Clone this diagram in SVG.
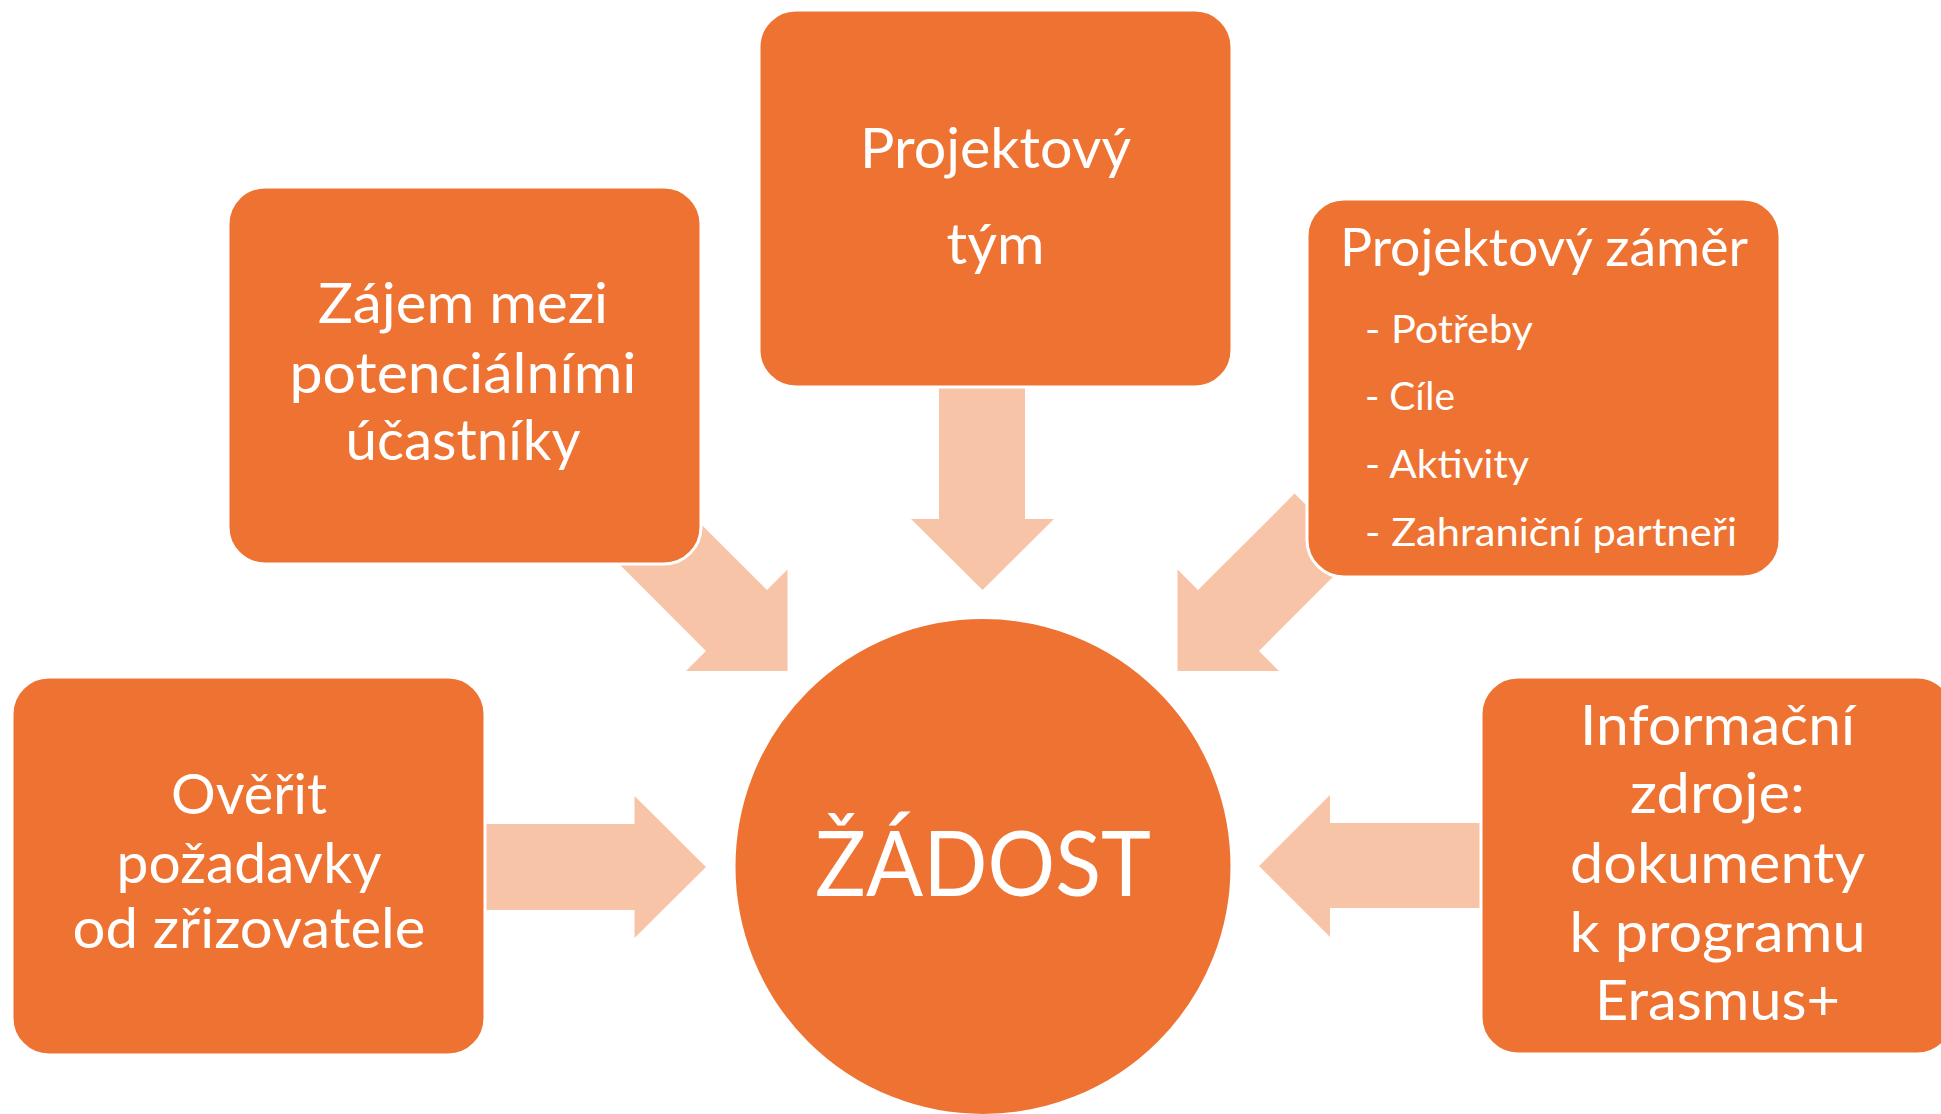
<svg xmlns="http://www.w3.org/2000/svg" width="1941" height="1114" viewBox="0 0 1941 1114">
  <style>
    .box { fill: #EE7332; stroke: #FFFFFF; stroke-width: 3; }
    .arrow { fill: #F8C4A8; stroke: none; }
    .t { font-family: Lato, "Liberation Sans", sans-serif; fill: #FFFFFF; }
    .main { font-size: 57px; text-anchor: middle; }
    .title { font-size: 52px; text-anchor: middle; }
    .bul { font-size: 39px; text-anchor: start; }
    .big { font-size: 92px; text-anchor: middle; }
  </style>
  <rect width="1941" height="1114" fill="#FFFFFF"/>

  <g id="connectors">
    <polygon class="arrow" points="939,380 1025,380 1025,519 1054,519 982.5,590 911,519 939,519"/>
    <polygon class="arrow" points="670.4,493.6 767,590 787.5,569.5 787.5,671 686,671 706,651 609.6,554.4"/>
    <polygon class="arrow" points="1294.6,493.6 1198,590 1177.5,569.5 1177.5,671 1279,671 1259,651 1355.4,554.4"/>
    <polygon class="arrow" points="470,824 634.5,824 634.5,796 706,867 634.5,938 634.5,910 470,910"/>
    <polygon class="arrow" points="1500,823 1330,823 1330,795 1259,866 1330,937 1330,908 1500,908"/>
  </g>

  <g id="node-tym">
    <rect class="box" x="759" y="10" width="473" height="377" rx="37" ry="37"/>
    <text class="t main" x="995.5" y="168" textLength="271" lengthAdjust="spacingAndGlyphs">Projektový</text>
    <text class="t main" x="995.5" y="264" textLength="98" lengthAdjust="spacingAndGlyphs">tým</text>
  </g>

  <g id="node-zajem">
    <rect class="box" x="228" y="187" width="473" height="377" rx="37" ry="37"/>
    <text class="t main" x="463" y="323" textLength="290" lengthAdjust="spacingAndGlyphs">Zájem mezi</text>
    <text class="t main" x="463" y="393" textLength="347" lengthAdjust="spacingAndGlyphs">potenciálními</text>
    <text class="t main" x="463" y="460" textLength="235" lengthAdjust="spacingAndGlyphs">účastníky</text>
  </g>

  <g id="node-zamer">
    <rect class="box" x="1307" y="199" width="473" height="378" rx="37" ry="37"/>
    <text class="t title" x="1544" y="266" textLength="408" lengthAdjust="spacingAndGlyphs">Projektový záměr</text>
    <text class="t bul" x="1365" y="343" textLength="168" lengthAdjust="spacingAndGlyphs">- Potřeby</text>
    <text class="t bul" x="1365" y="410" textLength="90" lengthAdjust="spacingAndGlyphs">- Cíle</text>
    <text class="t bul" x="1365" y="478" textLength="164" lengthAdjust="spacingAndGlyphs">- Aktivity</text>
    <text class="t bul" x="1365" y="546" textLength="372" lengthAdjust="spacingAndGlyphs">- Zahraniční partneři</text>
  </g>

  <g id="node-overit">
    <rect class="box" x="12" y="677" width="473" height="378" rx="37" ry="37"/>
    <text class="t main" x="249" y="814" textLength="156" lengthAdjust="spacingAndGlyphs">Ověřit</text>
    <text class="t main" x="249" y="883" textLength="265" lengthAdjust="spacingAndGlyphs">požadavky</text>
    <text class="t main" x="249" y="948" textLength="353" lengthAdjust="spacingAndGlyphs">od zřizovatele</text>
  </g>

  <g id="node-info">
    <rect class="box" x="1481" y="677" width="473" height="377" rx="37" ry="37"/>
    <text class="t main" x="1717.5" y="745" textLength="275" lengthAdjust="spacingAndGlyphs">Informační</text>
    <text class="t main" x="1717.5" y="813" textLength="175" lengthAdjust="spacingAndGlyphs">zdroje:</text>
    <text class="t main" x="1717.5" y="883" textLength="295" lengthAdjust="spacingAndGlyphs">dokumenty</text>
    <text class="t main" x="1717.5" y="952" textLength="296" lengthAdjust="spacingAndGlyphs">k programu</text>
    <text class="t main" x="1717.5" y="1020" textLength="245" lengthAdjust="spacingAndGlyphs">Erasmus+</text>
  </g>

  <g id="node-zadost">
    <circle class="box" cx="983" cy="866.5" r="249"/>
    <text class="t big" x="983" y="896" textLength="336" lengthAdjust="spacingAndGlyphs">ŽÁDOST</text>
  </g>
</svg>
